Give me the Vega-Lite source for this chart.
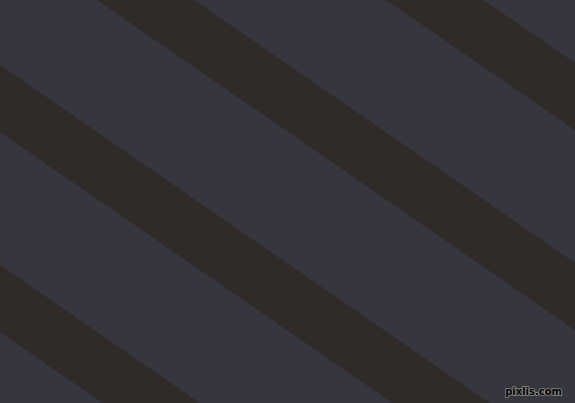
{
  "$schema": "https://vega.github.io/schema/vega-lite/v6.json",
  "description": "Diagonal stripes pattern",
  "autosize": {"type": "fit", "contains": "padding"},
  "width": 575,
  "height": 403,
  "padding": 0,
  "background": "#36363f",
  "config": {"view": {"stroke": null}},
  "datasets": {
    "stripes": [
      {"stripe": "a", "x": 0, "top": -333, "bottom": -266},
      {"stripe": "a", "x": 575, "top": 63, "bottom": 130},
      {"stripe": "b", "x": 0, "top": -134, "bottom": -67},
      {"stripe": "b", "x": 575, "top": 263, "bottom": 330},
      {"stripe": "c", "x": 0, "top": 65, "bottom": 132},
      {"stripe": "c", "x": 575, "top": 462, "bottom": 529},
      {"stripe": "d", "x": 0, "top": 265, "bottom": 332},
      {"stripe": "d", "x": 575, "top": 662, "bottom": 729}
    ],
    "mark": [{"label": "pixlis.com", "x": 562, "y": 392}]
  },
  "layer": [
    {
      "data": {"name": "stripes"},
      "mark": {"type": "area", "clip": true, "color": "#302a28", "interpolate": "linear"},
      "encoding": {
        "x": {"field": "x", "type": "quantitative", "scale": {"domain": [0, 575], "nice": false, "zero": false}, "axis": null},
        "y": {"field": "top", "type": "quantitative", "scale": {"domain": [403, 0], "nice": false, "zero": false}, "axis": null},
        "y2": {"field": "bottom"},
        "detail": {"field": "stripe"}
      }
    },
    {
      "data": {"name": "mark"},
      "mark": {"type": "text", "align": "right", "baseline": "middle", "font": "DejaVu Sans", "fontSize": 10, "fontWeight": "bold", "color": "#8a8a8a", "stroke": "#8a8a8a", "strokeWidth": 1.6},
      "encoding": {
        "x": {"field": "x", "type": "quantitative"},
        "y": {"field": "y", "type": "quantitative"},
        "text": {"field": "label"}
      }
    },
    {
      "data": {"name": "mark"},
      "mark": {"type": "text", "align": "right", "baseline": "middle", "font": "DejaVu Sans", "fontSize": 10, "fontWeight": "bold", "color": "#000000"},
      "encoding": {
        "x": {"field": "x", "type": "quantitative"},
        "y": {"field": "y", "type": "quantitative"},
        "text": {"field": "label"}
      }
    }
  ]
}
